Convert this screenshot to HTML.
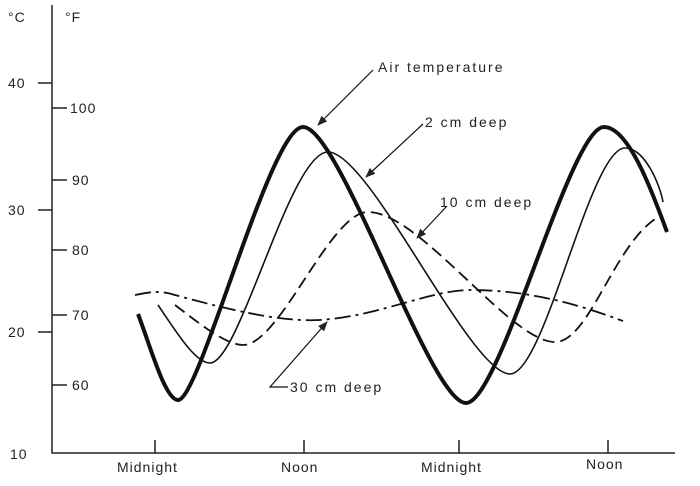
<!DOCTYPE html>
<html><head><style>body{margin:0;background:#fff}svg{display:block}text{font-family:"Liberation Sans",sans-serif;fill:#222}</style></head><body>
<svg width="700" height="486" viewBox="0 0 700 486">
<defs><marker id="a" markerWidth="10" markerHeight="8" refX="9" refY="4" orient="auto" markerUnits="userSpaceOnUse"><path d="M0,0 L10,4 L0,8 z" fill="#222"/></marker></defs>
<g stroke="#222" fill="none" stroke-width="1.5">
<path d="M52,5 V453 H675"/>
<path d="M38,83H52M38,210H52M38,332H52"/>
<path d="M52,108H67M52,180H67M52,250H67M52,315H67M52,385H67"/>
<path d="M155,440V453M304,440V453M459,440V453M608,440V453"/>
</g>
<g font-size="14" letter-spacing="1">
<text x="8" y="22">°C</text><text x="65" y="22">°F</text>
<text x="8" y="88">40</text><text x="8" y="215">30</text><text x="8" y="337">20</text><text x="10" y="459">10</text>
<text x="70" y="113">100</text><text x="72" y="185">90</text><text x="72" y="255">80</text><text x="72" y="320">70</text><text x="72" y="390">60</text>
<text x="117" y="472">Midnight</text><text x="281" y="472">Noon</text><text x="421" y="472">Midnight</text><text x="586" y="469">Noon</text>
</g>
<g font-size="14" letter-spacing="2">
<text x="378" y="72">Air temperature</text>
<text x="425" y="127">2 cm deep</text>
<text x="440" y="207">10 cm deep</text>
<text x="290" y="392">30 cm deep</text>
</g>
<g fill="none" stroke="#111">
<path stroke-width="4" d="M138,314 C150,345 165,400 178,400 C200,400 270,127 303,127 C340,127 430,403 466,403 C500,403 570,127 604,127 C630,127 655,200 667,232"/>
<path stroke-width="1.6" d="M158,305 C175,330 195,363 210,363 C240,363 290,152 328,152 C370,152 470,374 510,374 C545,374 590,148 625,148 C645,148 660,185 663,202"/>
<path stroke-width="1.8" stroke-dasharray="12,6" d="M175,305 C195,320 225,345 243,345 C280,345 330,212 368,212 C420,212 510,342 555,342 C590,342 615,240 660,216"/>
<path stroke-width="1.8" stroke-dasharray="16,5,3,5" d="M135,295 C150,292 160,290 175,295 C230,310 280,322 320,320 C380,316 430,290 470,290 C530,290 580,305 623,321"/>
<g stroke-width="1.2" marker-end="url(#a)">
<path d="M373,70 L318,125"/>
<path d="M423,124 L366,177"/>
<path d="M447,206 L417,238"/>
<path d="M288,387 H270 L327,322"/>
</g>
</g>
</svg>
</body></html>
